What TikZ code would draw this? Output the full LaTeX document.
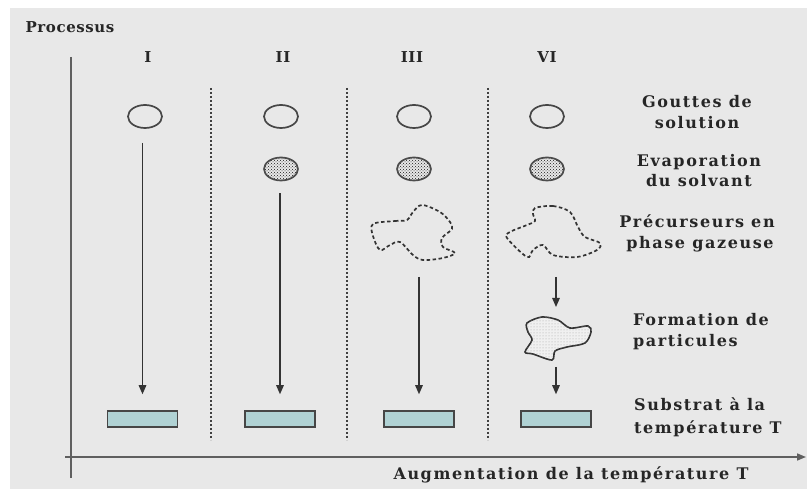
\documentclass[tikz,border=0pt]{standalone}
\usepackage{fontspec}
\newfontfamily\lblfont{DejaVu Serif Bold}[LetterSpace=4]
\newfontfamily\capfont{DejaVu Serif Bold}[LetterSpace=10]
\usetikzlibrary{patterns,arrows.meta,shapes.geometric,calc}

\definecolor{panel}{RGB}{232,232,232}
\definecolor{ink}{RGB}{70,70,70}
\definecolor{axisgray}{RGB}{95,95,95}
\definecolor{substrat}{RGB}{176,210,212}

\tikzset{
  numlbl/.style={font=\lblfont\fontsize{15}{18}\selectfont, text=black!85, inner sep=0pt, anchor=base},
  lbl/.style={font=\capfont\fontsize{16}{20}\selectfont, text=black!85, inner sep=0pt, anchor=base},
  drop/.style={ellipse, draw=ink, line width=1.7pt, minimum width=34pt, minimum height=23pt, inner sep=0pt},
  drydrop/.style={drop, draw=black!70, fill=gray!45, pattern=crosshatch dots, pattern color=gray!20!black},
  substratbox/.style={draw=ink, fill=substrat, line width=1.5pt, minimum width=70pt, minimum height=16pt, inner sep=0pt},
  flow/.style={draw=black!80, line width=1.3pt, -{Triangle[length=9pt,width=7.5pt]}},
  separator/.style={draw=black!75, line width=2.2pt, dash pattern=on 1.6pt off 2.4pt},
  axisline/.style={draw=axisgray, line width=1.6pt},
  vapour/.style={draw=gray!40!black, line width=1.7pt, dash pattern=on 3.5pt off 2.5pt},
  grain/.style={draw=gray!40!black, line width=1.6pt, fill=gray!12, postaction={pattern=dots, pattern color=gray!70}},
}

\begin{document}
\begin{tikzpicture}[x=1pt,y=-1pt]
\useasboundingbox (0,0) rectangle (807,489);
\fill[white] (0,0) rectangle (807,489);
\fill[panel] (10,8) rectangle (807,489);

% axes
\coordinate (vtop) at (71,57);
\coordinate (vbot) at (71,478);
\coordinate (hleft) at (65,457);
\coordinate (hright) at (806,457);
\draw[axisline] (vtop) -- (vbot);
\draw[axisline, -{Triangle[length=9pt,width=7pt]}] (hleft) -- (hright);
\node[numlbl] (ttl) at (70,33) {Processus};
\node[lbl] (xlbl) at (571,479) {Augmentation de la température T};

% column headings
\node[numlbl] (h1) at (148,63) {I};
\node[numlbl] (h2) at (283,63) {II};
\node[numlbl] (h3) at (412,63) {III};
\node[numlbl] (h4) at (547,63) {VI};

% dotted separators
\foreach \x [count=\i] in {211,347,488}{
  \coordinate (sa\i) at (\x,88);
  \coordinate (sb\i) at (\x,440);
  \draw[separator] (sa\i) -- (sb\i);
}

% stage captions
\node[lbl] (c1a) at (697,108) {Gouttes de};
\node[lbl] (c1b) at (697,129) {solution};
\node[lbl] (c2a) at (699,167) {Evaporation};
\node[lbl] (c2b) at (699,187) {du solvant};
\node[lbl] (c3a) at (697,228) {Précurseurs en};
\node[lbl] (c3b) at (700,249) {phase gazeuse};
\node[lbl, anchor=base west] (c4a) at (633,326) {Formation de};
\node[lbl, anchor=base west] (c4b) at (633,347) {particules};
\node[lbl, anchor=base west] (c5a) at (634,410) {Substrat à la};
\node[lbl, anchor=base west] (c5b) at (634,433) {température T};

% droplets
\node[drop] (g1) at (145,116.5) {};
\node[drop] (g2) at (281,116.5) {};
\node[drop] (g3) at (414,116.5) {};
\node[drop] (g4) at (547,116.5) {};

% dried droplets
\node[drydrop] (e2) at (281,169) {};
\node[drydrop] (e3) at (414,169) {};
\node[drydrop] (e4) at (547,169) {};

% substrates
\node[substratbox] (s1) at (142.5,419) {};
\node[substratbox] (s2) at (280,419) {};
\node[substratbox] (s3) at (419,419) {};
\node[substratbox] (s4) at (556,419) {};

% gaseous precursors
\draw[vapour] plot[smooth cycle, tension=0.55] coordinates {
  (373,224) (395,221) (407,220) (413,212) (422,205) (440,212) (450,222) (452,229)
  (442,238) (443,247) (455,253) (443,258) (423,260) (413,255) (400,242) (390,245)
  (380,250) (373,236)};
\coordinate (p3) at (419,262);
\draw[vapour] plot[smooth cycle, tension=0.55] coordinates {
  (535,208) (553,206) (570,212) (578,227) (585,237) (600,243) (597,250) (577,257)
  (553,255) (543,245) (533,250) (527,257) (507,238) (510,232) (527,225) (535,221)
  (533,214)};
\coordinate (p4) at (556,262);

% particle
\draw[grain] plot[smooth cycle, tension=0.5] coordinates {
  (527,323) (542,317) (558,320) (570,328) (588,326) (591,332) (585,343) (567,347)
  (555,351) (552,360) (533,354) (525,352) (532,340) (528,332)};
\coordinate (q4a) at (556,315);
\coordinate (q4b) at (556,362);

% flow arrows
\draw[flow] ($(g1.south -| s1.north)+(0,14)$) -- ($(s1.north)+(0,-16)$);
\draw[flow] ($(e2.south -| s2.north)+(0,12)$) -- ($(s2.north)+(0,-16)$);
\draw[flow] ($(p3 -| s3.north)+(0,15)$) -- ($(s3.north)+(0,-16)$);
\draw[flow] ($(p4 -| s4.north)+(0,15)$) -- ($(q4a)+(0,-8)$);
\draw[flow] ($(q4b)+(0,5)$) -- ($(s4.north)+(0,-16)$);
\end{tikzpicture}
\end{document}
